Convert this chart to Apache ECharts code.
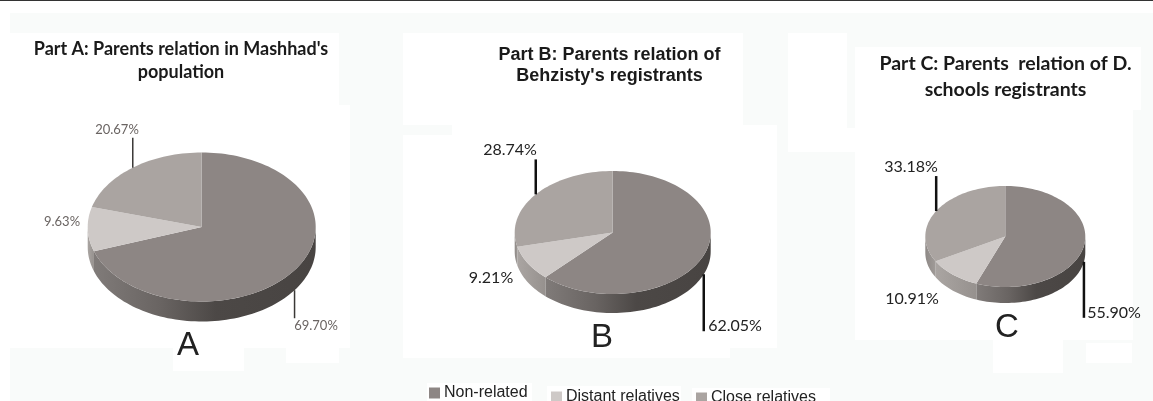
<!DOCTYPE html>
<html>
<head>
<meta charset="utf-8">
<style>
  html, body { margin: 0; padding: 0; background: #fff; }
  #chart { width: 1153px; height: 401px; }
</style>
<script src="https://cdn.jsdelivr.net/npm/echarts@6/dist/echarts.min.js"></script>
</head>
<body>
<div id="chart"></div>
<script>
// percentages per part (A, B, C)
const partLetters = ["A", "B", "C"];
const partTitles = [
  "Part A: Parents relation in Mashhad's\npopulation",
  "Part B: Parents relation of\nBehzisty's registrants",
  "Part C: Parents  relation of D.\nschools registrants"
];
const categories = ["Non-related", "Distant relatives", "Close relatives"];
const nonRelated = [69.70, 62.05, 55.90];
const distantRelatives = [9.63, 9.21, 10.91];
const closeRelatives = [20.67, 28.74, 33.18];
const seriesValues = [nonRelated, distantRelatives, closeRelatives];

// layout, kept apart from the data
const panels = [
  { cx: 201.7, cy: 227, rx: 114, ry: 74.5, depth: 20, lineWidth: 1.5, lineColor: "#3a3836", labelColor: "#6a6462", labelSize: 13 },
  { cx: 612.7, cy: 232.5, rx: 98, ry: 61.5, depth: 19, lineWidth: 2.5, lineColor: "#111", labelColor: "#222", labelSize: 16 },
  { cx: 1005.3, cy: 236.5, rx: 80, ry: 50.5, depth: 16, lineWidth: 2.5, lineColor: "#111", labelColor: "#222", labelSize: 16 }
];
const topColors = ["#8d8684", "#cec9c7", "#aaa4a1"];
const sideStops = [
  [[0, "#807b79"], [0.3, "#696462"], [0.55, "#4c4846"], [1, "#484442"]],
  [[0, "#aaa5a2"], [1, "#96918e"]],
  [[0, "#8e8986"], [1, "#a09b98"]]
];
// leader length and label centre per category, per part
const leaderLengths = [[28, 57, 56], [0, 0, 0], [30, 35, 35]];
const labelCenters = [
  [[316, 326], [735, 326], [1114, 313]],
  [[62, 222], [491, 278], [912, 299]],
  [[117, 130], [510, 150], [911, 167]]
];
const titleLayout = [
  { x: 181, y: 38, size: 18, family: "Lato", lineHeight: 23 },
  { x: 609.5, y: 45, size: 18, family: "Liberation Sans", lineHeight: 21 },
  { x: 1005.5, y: 51, size: 19.5, family: "Lato", lineHeight: 26 }
];
const letterLayout = [[188, 346], [602, 338], [1007, 328]];
const whitePatches = [
  [0, 1, 1153, 12], [0, 1, 10, 400],
  [10, 33, 329, 72], [10, 105, 340, 243], [173, 348, 71, 23], [286, 348, 53, 15],
  [403, 33, 340, 92], [452, 125, 325, 223], [403, 135, 49, 223], [452, 348, 278, 10],
  [788, 33, 59, 119], [788, 128, 67, 24], [855, 47, 286, 63], [855, 110, 278, 230],
  [993, 340, 70, 33], [1086, 343, 46, 20],
  [427, 383, 105, 18], [547, 386, 134, 15], [692, 388, 138, 13]
];

function ellipsePoint(panel, angle, drop) {
  const rad = angle * Math.PI / 180;
  return [panel.cx + panel.rx * Math.sin(rad), panel.cy - panel.ry * Math.cos(rad) + drop];
}

function arcPoints(panel, from, to, drop) {
  const points = [];
  const steps = Math.max(2, Math.ceil((to - from) / 2));
  for (let i = 0; i <= steps; i += 1) {
    points.push(ellipsePoint(panel, from + (to - from) * i / steps, drop));
  }
  return points;
}

function startAngle(categoryIndex, partIndex) {
  let sum = 0;
  for (let i = 0; i < categoryIndex; i += 1) {
    sum += seriesValues[i][partIndex];
  }
  return sum * 3.6;
}

function renderSlice(categoryIndex) {
  return function (params, api) {
    const partIndex = params.dataIndex;
    const panel = panels[partIndex];
    const value = api.value(0);
    const from = startAngle(categoryIndex, partIndex);
    const to = from + value * 3.6;
    const children = [];

    // outer wall, only the front half of the disc shows
    const sideFrom = Math.max(from, 90);
    const sideTo = Math.min(to, 270);
    if (sideTo > sideFrom) {
      const upper = arcPoints(panel, sideFrom, sideTo, 0);
      const lower = arcPoints(panel, sideFrom, sideTo, panel.depth).reverse();
      const xs = upper.map((p) => p[0]);
      const minX = Math.min.apply(null, xs);
      const maxX = Math.max.apply(null, xs);
      const leftToRight = sideStops[categoryIndex].map((s) => ({ offset: s[0], color: s[1] }));
      children.push({
        type: "polygon",
        z2: 1,
        shape: { points: upper.concat(lower) },
        style: {
          fill: { type: "linear", x: minX, y: 0, x2: maxX, y2: 0, global: true, colorStops: leftToRight }
        }
      });
    }

    // top face
    children.push({
      type: "polygon",
      z2: 2,
      shape: { points: [[panel.cx, panel.cy]].concat(arcPoints(panel, from, to, 0)) },
      style: { fill: topColors[categoryIndex] }
    });

    // leader starts at the slice's middle angle
    const leader = leaderLengths[categoryIndex][partIndex];
    if (leader > 0) {
      const mid = (from + to) / 2;
      const front = mid > 90 && mid < 270;
      const anchor = ellipsePoint(panel, mid, front ? panel.depth : 0);
      children.push({
        type: "line",
        z2: 3,
        shape: { x1: anchor[0], y1: anchor[1], x2: anchor[0], y2: anchor[1] + (front ? leader : -leader) },
        style: { stroke: panel.lineColor, lineWidth: panel.lineWidth }
      });
    }

    const center = labelCenters[categoryIndex][partIndex];
    children.push({
      type: "text",
      z2: 4,
      style: {
        x: center[0],
        y: center[1],
        text: value.toFixed(2) + "%",
        fill: panel.labelColor,
        font: panel.labelSize + "px Lato",
        align: "center",
        verticalAlign: "middle"
      }
    });

    return { type: "group", children: children };
  };
}

const legendLayout = [
  { left: 429, top: 385 },
  { left: 551, top: 389 },
  { left: 696, top: 390 }
];

const option = {
  animation: false,
  backgroundColor: "#f9fbfa",
  title: partTitles.map((text, i) => ({
    text: text,
    left: titleLayout[i].x,
    top: titleLayout[i].y,
    textAlign: "center",
    padding: 0,
    textStyle: {
      fontFamily: titleLayout[i].family,
      fontSize: titleLayout[i].size,
      fontWeight: "bold",
      color: "#1a1a1a",
      lineHeight: titleLayout[i].lineHeight
    }
  })),
  legend: categories.map((name, i) => ({
    data: [name],
    left: legendLayout[i].left,
    top: legendLayout[i].top,
    padding: 0,
    icon: "rect",
    itemWidth: 11,
    itemHeight: 11,
    itemGap: 0,
    selectedMode: false,
    textStyle: { fontFamily: "Liberation Sans", fontSize: 16, color: "#222", padding: [0, 0, 0, -1] }
  })),
  graphic: whitePatches.map((r) => ({
    type: "rect",
    z: -10,
    silent: true,
    shape: { x: r[0], y: r[1], width: r[2], height: r[3] },
    style: { fill: "#fff" }
  })).concat([
    { type: "rect", z: -9, silent: true, shape: { x: 0, y: 0, width: 1153, height: 1 }, style: { fill: "#333" } }
  ]).concat(partLetters.map((letter, i) => ({
    type: "text",
    z: 5,
    silent: true,
    style: {
      x: letterLayout[i][0],
      y: letterLayout[i][1],
      text: letter,
      fill: "#222",
      font: "33px 'Liberation Sans'",
      align: "center",
      verticalAlign: "middle"
    }
  }))),
  series: categories.map((name, i) => ({
    type: "custom",
    name: name,
    coordinateSystem: "none",
    data: seriesValues[i],
    itemStyle: { color: topColors[i] },
    renderItem: renderSlice(i)
  }))
};

const chart = echarts.init(document.getElementById("chart"));
chart.setOption(option);
</script>
</body>
</html>
